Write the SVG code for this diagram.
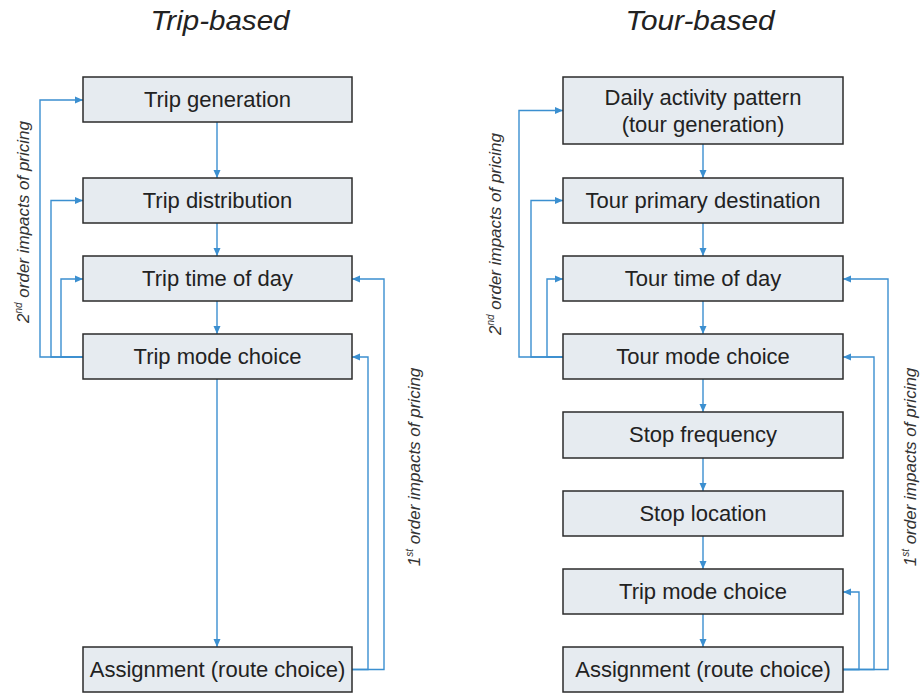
<svg xmlns="http://www.w3.org/2000/svg" width="922" height="694" viewBox="0 0 922 694">
  <style>
    .box { fill: #e6ebf0; stroke: #2b2b2b; stroke-width: 1.5; }
    .lbl { font-family: "Liberation Sans", Arial, sans-serif; font-size: 22px; fill: #222; text-anchor: middle; }
    .title { font-family: "Liberation Sans", Arial, sans-serif; font-size: 27px; font-style: italic; fill: #222; text-anchor: middle; }
    .side { font-family: "Liberation Sans", Arial, sans-serif; font-size: 17px; font-style: italic; fill: #333; text-anchor: middle; }
    .sup { font-size: 10px; }
    .wire { fill: none; stroke: #3b8fd0; stroke-width: 1.4; }
    .arr { marker-end: url(#head); }
  </style>
  <defs>
    <marker id="head" markerUnits="userSpaceOnUse" markerWidth="9" markerHeight="8" refX="8" refY="4" orient="auto">
      <path d="M0,0.5 L8,4 L0,7.5 Z" fill="#3b8fd0"/>
    </marker>
  </defs>
  <rect width="922" height="694" fill="#ffffff"/>

  <!-- column headings -->
  <text class="title" x="220" y="29.5" textLength="139" lengthAdjust="spacingAndGlyphs">Trip-based</text>
  <text class="title" x="700" y="29.5" textLength="149" lengthAdjust="spacingAndGlyphs">Tour-based</text>

  <!-- connectors -->
  <g id="connectors">
    <!-- trip-based chain -->
    <path class="wire arr" d="M217,122 V178"/>
    <path class="wire arr" d="M217,223 V256"/>
    <path class="wire arr" d="M217,301 V334"/>
    <path class="wire arr" d="M217,379 V647"/>
    <!-- trip-based 2nd order loops -->
    <path class="wire arr" d="M83,357 H40 V100 H83"/>
    <path class="wire arr" d="M83,357 H51 V200.5 H83"/>
    <path class="wire arr" d="M83,357 H61 V279 H83"/>
    <!-- trip-based 1st order loops -->
    <path class="wire arr" d="M352,669.5 H384 V279 H352"/>
    <path class="wire arr" d="M352,669.5 H368 V357 H352"/>

    <!-- tour-based chain -->
    <path class="wire arr" d="M703,144 V178"/>
    <path class="wire arr" d="M703,223 V256"/>
    <path class="wire arr" d="M703,301 V334"/>
    <path class="wire arr" d="M703,379 V412"/>
    <path class="wire arr" d="M703,458 V491"/>
    <path class="wire arr" d="M703,536 V569"/>
    <path class="wire arr" d="M703,614 V647"/>
    <!-- tour-based 2nd order loops -->
    <path class="wire arr" d="M563,357 H519 V110.5 H563"/>
    <path class="wire arr" d="M563,357 H531 V200.5 H563"/>
    <path class="wire arr" d="M563,357 H547 V279 H563"/>
    <!-- tour-based 1st order loops -->
    <path class="wire arr" d="M843,669.5 H888 V279 H843"/>
    <path class="wire arr" d="M843,669.5 H874 V357 H843"/>
    <path class="wire arr" d="M843,669.5 H859 V592 H843"/>
  </g>

  <!-- trip-based nodes -->
  <g id="trip-generation">
    <rect class="box" x="83" y="77" width="269" height="45"/>
    <text class="lbl" x="217.5" y="107">Trip generation</text>
  </g>
  <g id="trip-distribution">
    <rect class="box" x="83" y="178" width="269" height="45"/>
    <text class="lbl" x="217.5" y="208">Trip distribution</text>
  </g>
  <g id="trip-time-of-day">
    <rect class="box" x="83" y="256" width="269" height="45"/>
    <text class="lbl" x="217.5" y="286">Trip time of day</text>
  </g>
  <g id="trip-mode-choice">
    <rect class="box" x="83" y="334" width="269" height="45"/>
    <text class="lbl" x="217.5" y="364">Trip mode choice</text>
  </g>
  <g id="trip-assignment">
    <rect class="box" x="83" y="647" width="269" height="45"/>
    <text class="lbl" x="217.5" y="677">Assignment (route choice)</text>
  </g>

  <!-- tour-based nodes -->
  <g id="daily-activity-pattern">
    <rect class="box" x="563" y="77" width="280" height="67"/>
    <text class="lbl" x="703" y="105">Daily activity pattern</text>
    <text class="lbl" x="703" y="131.5">(tour generation)</text>
  </g>
  <g id="tour-primary-destination">
    <rect class="box" x="563" y="178" width="280" height="45"/>
    <text class="lbl" x="703" y="208">Tour primary destination</text>
  </g>
  <g id="tour-time-of-day">
    <rect class="box" x="563" y="256" width="280" height="45"/>
    <text class="lbl" x="703" y="286">Tour time of day</text>
  </g>
  <g id="tour-mode-choice">
    <rect class="box" x="563" y="334" width="280" height="45"/>
    <text class="lbl" x="703" y="364">Tour mode choice</text>
  </g>
  <g id="stop-frequency">
    <rect class="box" x="563" y="412" width="280" height="46"/>
    <text class="lbl" x="703" y="442">Stop frequency</text>
  </g>
  <g id="stop-location">
    <rect class="box" x="563" y="491" width="280" height="45"/>
    <text class="lbl" x="703" y="521">Stop location</text>
  </g>
  <g id="tour-trip-mode-choice">
    <rect class="box" x="563" y="569" width="280" height="45"/>
    <text class="lbl" x="703" y="599">Trip mode choice</text>
  </g>
  <g id="tour-assignment">
    <rect class="box" x="563" y="647" width="280" height="45"/>
    <text class="lbl" x="703" y="677">Assignment (route choice)</text>
  </g>

  <!-- loop annotations -->
  <g id="notes">
    <text class="side" transform="translate(29,222) rotate(-90)">2<tspan class="sup" dy="-7">nd</tspan><tspan dy="7"> order impacts of pricing</tspan></text>
    <text class="side" transform="translate(420,467) rotate(-90)">1<tspan class="sup" dy="-7">st</tspan><tspan dy="7"> order impacts of pricing</tspan></text>
    <text class="side" transform="translate(501,234) rotate(-90)">2<tspan class="sup" dy="-7">nd</tspan><tspan dy="7"> order impacts of pricing</tspan></text>
    <text class="side" transform="translate(916,467) rotate(-90)">1<tspan class="sup" dy="-7">st</tspan><tspan dy="7"> order impacts of pricing</tspan></text>
  </g>
</svg>
